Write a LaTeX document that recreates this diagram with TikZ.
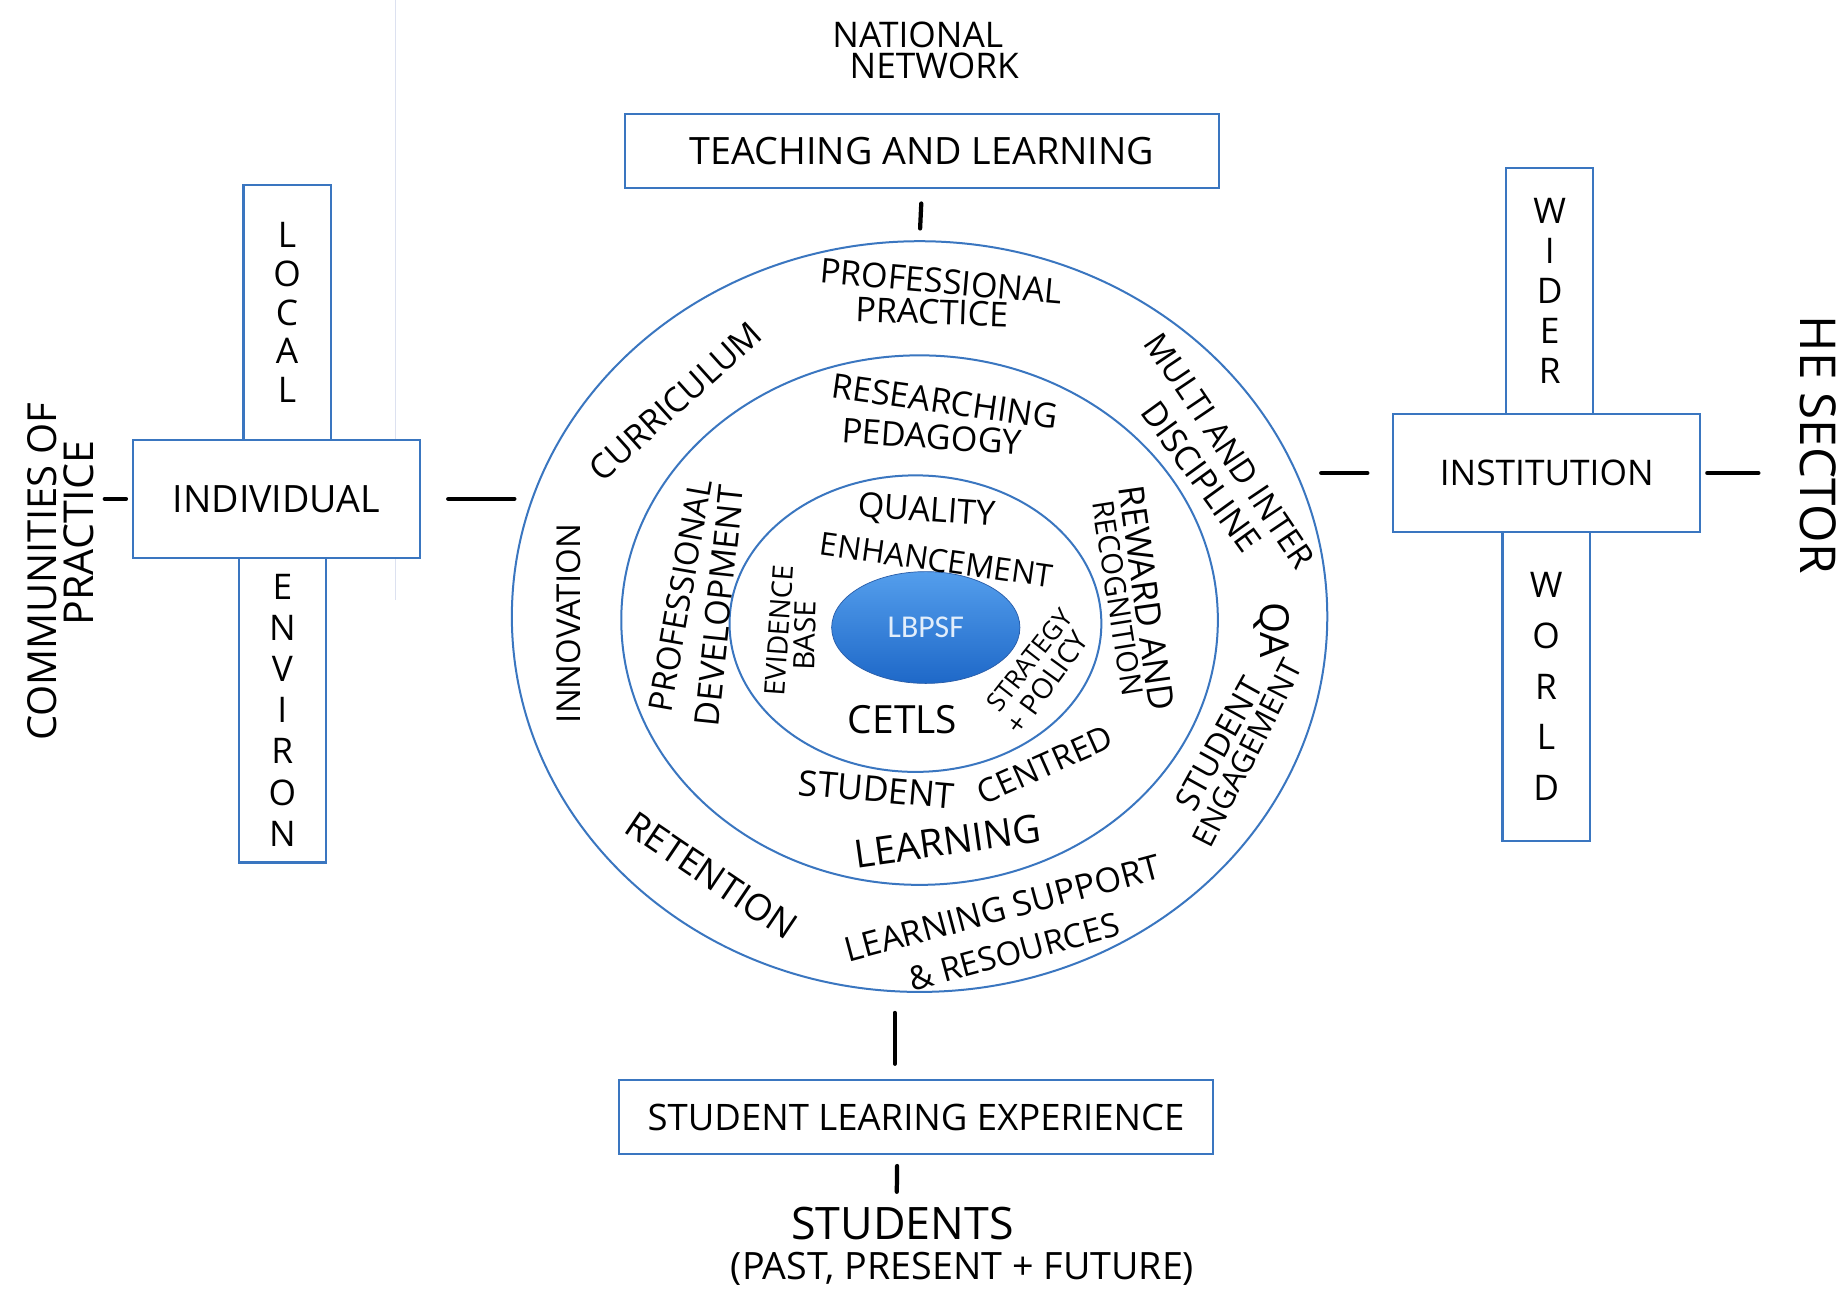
\documentclass[tikz,border=0pt]{standalone}
\usepackage{fontspec}
\setmainfont{Open Sans}
\newfontfamily\slidefont{Carlito}
\usetikzlibrary{shapes.geometric}

\definecolor{penblue}{RGB}{58,118,192}
\definecolor{corelight}{RGB}{84,158,236}
\definecolor{coredark}{RGB}{30,104,200}
\definecolor{coreedge}{RGB}{40,92,168}
\definecolor{coretext}{RGB}{226,238,251}
\definecolor{scanline}{RGB}{220,225,240}

\newcommand{\hw}[2]{\fontsize{#1}{#2}\selectfont}

\begin{document}
\begin{tikzpicture}[x=1pt,y=-1pt,
  frame/.style={draw=penblue,line width=1.9pt,fill=white,inner sep=0pt},
  arm/.style={frame,minimum width=74pt,align=center},
  ring/.style={ellipse,draw=penblue,line width=1.7pt,inner sep=0pt},
  word/.style={inner sep=0pt,align=center},
  tick/.style={line width=3.6pt,line cap=round}]

\fill[white] (0,0) rectangle (1568,1102);
\useasboundingbox (0,0) rectangle (1568,1102);
\draw[scanline,line width=1pt] (336,0) -- (336,510);

% the three rings and the core
\node[ring,minimum width=693pt,minimum height=638pt] (outer) at (781.5,524) {};
\node[ring,minimum width=507pt,minimum height=450pt] (middle) at (781.5,527) {};
\node[ring,minimum width=316pt,minimum height=252pt] (inner) at (778,530) {};
\node[ellipse,minimum width=160pt,minimum height=95pt,inner sep=0pt,
  draw=coreedge,line width=0.6pt,top color=corelight,bottom color=coredark,
  text=coretext,font=\slidefont\hw{27}{30}] (core) at (786.8,533.3) {LBPSF};

% outer ring
\node[word,font=\hw{29}{31},rotate=-5] (pp1) at (800,239) {PROFESSIONAL};
\node[word,font=\hw{29}{31},rotate=-2] (pp2) at (792,265) {PRACTICE};
\node[word,font=\hw{29}{31},rotate=42] (curr) at (574,341) {CURRICULUM};
\node[word,font=\hw{28}{30},rotate=-56] (multi) at (1045,383) {MULTI AND INTER};
\node[word,font=\hw{29}{31},rotate=-54] (disc) at (1021,405) {DISCIPLINE};
\node[word,font=\hw{28}{30},rotate=90] (innov) at (483,530) {INNOVATION};
\node[word,font=\hw{34}{36},rotate=-90] (qa) at (1080.7,535.4) {QA};
\node[word,font=\hw{28}{30},rotate=61] (se1) at (1036,632) {STUDENT};
\node[word,font=\hw{26}{28},rotate=63] (se2) at (1060,640) {ENGAGEMENT};
\node[word,font=\hw{31}{33},rotate=-34] (ret) at (605,744) {RETENTION};
\node[word,font=\hw{29}{31},rotate=15] (ls1) at (852,772) {LEARNING SUPPORT};
\node[word,font=\hw{28}{30},rotate=15] (ls2) at (862,809) {\& RESOURCES};

% middle ring
\node[word,font=\hw{29}{31},rotate=-8] (rp1) at (803,341) {RESEARCHING};
\node[word,font=\hw{29}{31},rotate=-4] (rp2) at (792,371) {PEDAGOGY};
\node[word,font=\hw{28}{30},rotate=80] (pd1) at (578,506) {PROFESSIONAL};
\node[word,font=\hw{29}{31},rotate=84] (pd2) at (611,515) {DEVELOPMENT};
\node[word,font=\hw{30}{32},rotate=-82] (rr1) at (974.5,508.5) {REWARD AND};
\node[word,font=\hw{25}{27},rotate=-81] (rr2) at (950,508.5) {RECOGNITION};
\node[word,font=\hw{30}{32},rotate=-5] (scl1) at (745,671) {STUDENT};
\node[word,font=\hw{28}{30},rotate=24] (scl2) at (888,650) {CENTRED};
\node[word,font=\hw{33}{35},rotate=8] (scl3) at (805,715) {LEARNING};

% inner ring
\node[word,font=\hw{29}{31},rotate=-4] (qe1) at (787.5,435) {QUALITY};
\node[word,font=\hw{27}{29},rotate=-8] (qe2) at (796,476) {ENHANCEMENT};
\node[word,font=\hw{24}{26},rotate=86] (eb1) at (662,536) {EVIDENCE};
\node[word,font=\hw{25}{27},rotate=88] (eb2) at (684,540) {BASE};
\node[word,font=\hw{33}{35}] (cetls) at (767,612) {CETLS};
\node[word,font=\hw{22}{24},rotate=52] (sp1) at (875,561) {STRATEGY};
\node[word,font=\hw{24}{26},rotate=54] (sp2) at (890,580) {+ POLICY};

% top and bottom boxes
\node[word,font=\hw{30}{32}] (nat1) at (780,30) {NATIONAL};
\node[word,font=\hw{30}{32}] (nat2) at (794,56) {NETWORK};
\node[frame,minimum width=505pt,minimum height=63pt,font=\hw{32}{34}] (tl) at (783.5,128.5) {TEACHING AND LEARNING};
\node[frame,minimum width=505pt,minimum height=63pt,font=\hw{31}{34}] (sle) at (778.5,949.5) {STUDENT LEARING EXPERIENCE};
\node[word,font=\hw{38}{40}] (stu1) at (767,1040) {STUDENTS};
\node[word,font=\hw{32}{34}] (stu2) at (818,1078) {(PAST, PRESENT + FUTURE)};

% left cross
\node[arm,minimum height=217pt,font=\hw{30}{33}] (local) at (244,265.5) {L\\O\\C\\A\\L};
\node[arm,minimum height=259pt,font=\hw{30}{35}] (environ) at (240,603.5) {E\\N\\V\\I\\R\\O\\N};
\node[frame,minimum width=244pt,minimum height=100pt,font=\hw{32}{34}] (ind) at (235,424) {INDIVIDUAL};
\node[word,font=\hw{34}{36},rotate=90] (cop1) at (36,486) {COMMUNITIES OF};
\node[word,font=\hw{35}{37},rotate=90] (cop2) at (67,453) {PRACTICE};

% right cross
\node[arm,minimum height=209pt,font=\hw{30}{34}] (wider) at (1317,247.5) {W\\I\\D\\E\\R};
\node[arm,minimum height=263pt,font=\hw{30}{43}] (world) at (1314,583.5) {W\\O\\R\\L\\D};
\node[frame,minimum width=261pt,minimum height=100pt,font=\hw{30}{32}] (inst) at (1314.5,402) {INSTITUTION};
\node[word,font=\hw{42}{44},rotate=-90] (he) at (1545,378) {HE SECTOR};

% short strokes between the parts
\draw[tick,shorten <=12pt,shorten >=10pt] (tl.south) -- (outer.north);
\draw[tick,shorten <=17pt,shorten >=13pt] ([xshift=-21pt]outer.south) -- ([xshift=-18pt]sle.north);
\draw[tick,shorten <=9pt,shorten >=13pt] ([xshift=-16pt]sle.south) -- ([xshift=-5pt]stu1.north);
\draw[tick,shorten <=5pt,shorten >=9pt] (ind.west) -- (ind.west -| cop2.south);
\draw[tick,shorten <=23pt,shorten >=-3pt] (ind.east) -- (ind.east -| outer.west);
\draw[tick,shorten <=-6pt,shorten >=21pt] (inst.west -| outer.east) -- (inst.west);
\draw[tick,shorten <=5pt,shorten >=35pt] (inst.east) -- (inst.east -| he.south);
\end{tikzpicture}
\end{document}
